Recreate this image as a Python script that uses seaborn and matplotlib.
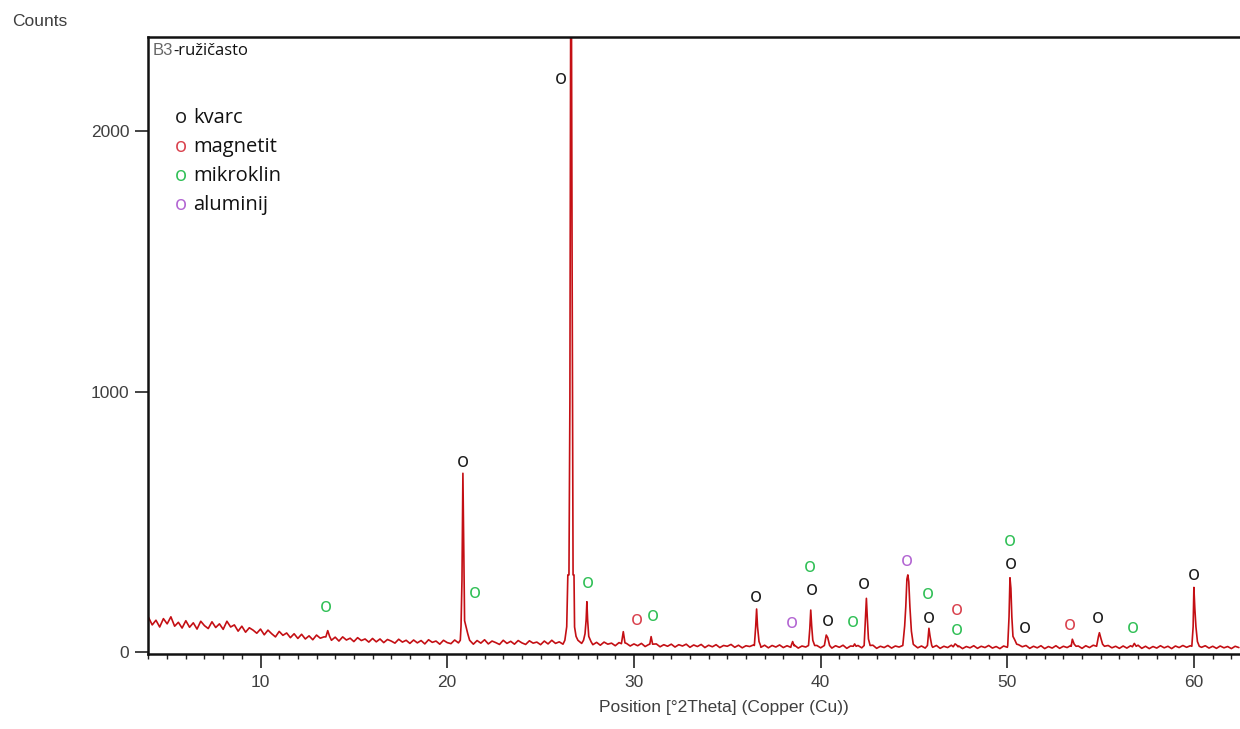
import numpy as np
import pandas as pd
import matplotlib
matplotlib.use("Agg")
import matplotlib.pyplot as plt
import seaborn as sns

# background scan, 4.0 .. 62.4 deg 2theta, 0.2 deg step (counts)
scan_start = 4.0
scan_step = 0.2
base_counts = [
    133, 104, 122, 96, 128, 108, 135, 99, 114, 92,
    120, 95, 112, 88, 118, 101, 90, 116, 94, 108,
    87, 118, 96, 104, 80, 99, 76, 93, 84, 72,
    88,
    66, 84, 70, 58, 79, 64, 73, 55, 70, 52,
    68, 50, 62, 47, 65, 53, 58, 60, 45, 57,
    42, 58, 46, 53, 40, 55, 44, 50, 38, 52,
    39, 50, 36, 48, 42, 34, 49, 38, 45, 33,
    46, 35, 44, 31, 47, 37, 42, 30, 45, 36,
    32, 46, 35, 40, 48, 37, 30, 44, 34, 47,
    31, 42, 36, 29, 45, 33, 41, 30, 44, 35,
    29, 43, 34, 38, 28, 42, 31, 45, 33, 39,
    30, 44, 38, 42, 40, 33, 29, 41, 28, 37,
    26, 38, 30, 34, 24, 36, 27, 33, 23, 31,
    24, 33, 21, 29, 26, 31, 20, 28, 22, 30,
    19, 28, 23, 30, 18, 27, 21, 29, 17, 26,
    20, 28, 17, 25, 22, 29, 18, 26, 16, 24,
    21, 27, 24, 18, 26, 16, 25, 19, 27, 17,
    24, 18, 26, 15, 23, 19, 27, 17, 25, 16,
    22, 27, 15, 24, 18, 26, 14, 23, 19, 25,
    16, 24, 19, 26, 14, 22, 17, 25, 15, 23,
    19, 26, 17, 24, 27, 16, 23, 15, 22, 18,
    25, 14, 22, 17, 26, 19, 23, 13, 21, 16,
    24, 14, 22, 17, 25, 15, 21, 13, 23, 18,
    27, 24, 28, 20, 25, 14, 22, 16, 24, 13,
    21, 15, 24, 14, 22, 17, 25, 18, 23, 14,
    24, 17, 26, 19, 27, 21, 25, 16, 22, 14,
    23, 15, 24, 18, 26, 14, 22, 13, 21, 15,
    24, 16, 22, 13, 23, 17, 25, 18, 24, 20,
    26, 18, 24, 15, 22, 14, 23, 16, 21, 13,
    22, 17,
]

# reflections: (2theta, counts) points across each peak
peak_profiles = [
    [(13.50, 58), (13.60, 82), (13.70, 60)],
    [(20.70, 45), (20.74, 100), (20.79, 276), (20.84, 686), (20.88, 443),
     (20.93, 120), (21.00, 100), (21.10, 70), (21.20, 45)],
    [(26.30, 45), (26.40, 97), (26.46, 296), (26.52, 296), (26.57, 960),
     (26.63, 3100), (26.69, 1459), (26.74, 296), (26.79, 296), (26.82, 96),
     (26.90, 60), (27.00, 45)],
    [(27.30, 45), (27.38, 70), (27.44, 123), (27.48, 193), (27.52, 123),
     (27.58, 60), (27.70, 40)],
    [(29.33, 32), (29.43, 78), (29.52, 35)],
    [(30.85, 30), (30.92, 59), (31.00, 30)],
    [(36.45, 25), (36.52, 97), (36.57, 165), (36.62, 97), (36.70, 40), (36.78, 25)],
    [(38.42, 24), (38.50, 40), (38.58, 24)],
    [(39.35, 25), (39.42, 90), (39.47, 161), (39.52, 100), (39.58, 45), (39.68, 25)],
    [(40.20, 25), (40.30, 65), (40.38, 55), (40.48, 25)],
    [(41.75, 22), (41.82, 31), (41.90, 22)],
    [(42.33, 25), (42.40, 130), (42.45, 206), (42.50, 130), (42.56, 50), (42.65, 25)],
    [(44.40, 25), (44.50, 100), (44.56, 174), (44.62, 280), (44.67, 296),
     (44.72, 270), (44.78, 174), (44.86, 80), (44.96, 30)],
    [(45.72, 25), (45.80, 91), (45.86, 60), (45.95, 25)],
    [(47.10, 20), (47.20, 31), (47.28, 27), (47.36, 20)],
    [(50.02, 25), (50.09, 135), (50.14, 285), (50.19, 244), (50.24, 135),
     (50.30, 60), (50.40, 46), (50.50, 30)],
    [(53.42, 22), (53.48, 49), (53.58, 30), (53.68, 22)],
    [(54.78, 22), (54.88, 60), (54.93, 74), (55.00, 55), (55.10, 30), (55.20, 22)],
    [(56.70, 20), (56.80, 33), (56.90, 22)],
    [(59.88, 22), (59.95, 97), (59.99, 248), (60.04, 168), (60.10, 97),
     (60.18, 40), (60.28, 22)],
]

# phase labels ("o") above the reflections
phase_names = ["kvarc", "magnetit", "mikroklin", "aluminij"]
phase_colors = ["#1a1a1a", "#d9404c", "#2fbf55", "#b264d2"]
mark_theta = [26.08, 20.83, 13.51, 21.49, 27.56, 30.18, 31.04, 36.54, 38.45,
              39.43, 39.52, 40.41, 41.72, 42.34, 44.61, 45.77, 45.82, 47.32,
              47.32, 50.14, 50.18, 50.96, 53.36, 54.86, 56.72, 60.00]
mark_counts = [2202, 730, 174, 228, 268, 126, 142, 215, 112,
               327, 241, 120, 116, 264, 353, 223, 133, 164,
               87, 427, 340, 95, 104, 132, 95, 299]
mark_phase = ["kvarc", "kvarc", "mikroklin", "mikroklin", "mikroklin", "magnetit",
              "mikroklin", "kvarc", "aluminij", "mikroklin", "kvarc", "kvarc",
              "mikroklin", "kvarc", "aluminij", "mikroklin", "kvarc", "magnetit",
              "mikroklin", "mikroklin", "kvarc", "kvarc", "magnetit", "kvarc",
              "mikroklin", "kvarc"]

base_theta = np.round(scan_start + scan_step * np.arange(len(base_counts)), 2)
keep = np.ones(len(base_theta), dtype=bool)
for pk in peak_profiles:
    xs = [p[0] for p in pk]
    keep &= ~((base_theta >= min(xs)) & (base_theta <= max(xs)))
pk_theta = [p[0] for pk in peak_profiles for p in pk]
pk_counts = [p[1] for pk in peak_profiles for p in pk]
df = pd.DataFrame({
    "theta": np.concatenate([base_theta[keep], pk_theta]),
    "counts": np.concatenate([np.array(base_counts)[keep], pk_counts]),
}).sort_values("theta")

sns.set_style("ticks")
plt.rcParams["font.family"] = ["Liberation Sans", "DejaVu Sans"]

W, H = 1240, 729
fig = plt.figure(figsize=(W / 100, H / 100), dpi=100)
ax = fig.add_axes([148 / W, 75 / H, 1 - 148 / W, 617 / H])

sns.lineplot(data=df, x="theta", y="counts", ax=ax, color="#c40f14",
             lw=1.2, estimator=None, sort=True)

ax.set_xlim(3.974, 62.46)
ax.set_ylim(-7.7, 2361)
ax.set_xticks([10, 20, 30, 40, 50, 60])
ax.set_xticks(np.arange(4, 63), minor=True)
ax.set_yticks([0, 1000, 2000])
grey = "#3f3f3f"
ax.tick_params(axis="x", which="major", direction="out", length=10, width=1.2,
               pad=5, labelsize=12.5, labelcolor=grey, color="#222222")
ax.tick_params(axis="x", which="minor", direction="out", length=3.6, width=1.0,
               color="#222222")
ax.tick_params(axis="y", which="major", direction="out", length=9.5, width=1.2,
               pad=4, labelsize=12.5, labelcolor=grey, color="#222222")
for side in ["left", "top", "bottom"]:
    ax.spines[side].set_linewidth(1.8)
    ax.spines[side].set_color("#111111")
ax.spines["right"].set_visible(False)

ax.set_ylabel("")
ax.set_xlabel("Position [°2Theta] (Copper (Cu))", fontsize=12.5, color=grey)
ax.xaxis.set_label_coords(0.5275, -0.074)
fig.text(12 / W, 1 - 22 / H, "Counts", ha="left", va="center", fontsize=12.5, color=grey)

color_of = dict(zip(phase_names, phase_colors))
for t, c, ph in zip(mark_theta, mark_counts, mark_phase):
    ax.annotate("o", (t, c), xytext=(0, -4), textcoords="offset points",
                ha="center", va="baseline", fontsize=14.5, family="Open Sans",
                color=color_of[ph])

# sample name in the corner
fig.text(153 / W, 1 - 55 / H, "B3", ha="left", va="baseline", fontsize=12,
         color="#666666", family="Liberation Sans")
fig.text(173 / W, 1 - 55 / H, "-ružičasto", ha="left", va="baseline",
         fontsize=12, color="#111111", family="Open Sans")

# phase key
for i, (name, col) in enumerate(zip(phase_names, phase_colors)):
    yb = 1 - (123 + 29 * i) / H
    fig.text(181 / W, yb, "o", ha="center", va="baseline", fontsize=14.5,
             family="Open Sans", color=col)
    fig.text(193 / W, yb, name, ha="left", va="baseline", fontsize=14.5,
             family="Open Sans", color="#111111")

fig.savefig("out.png", dpi=100)
